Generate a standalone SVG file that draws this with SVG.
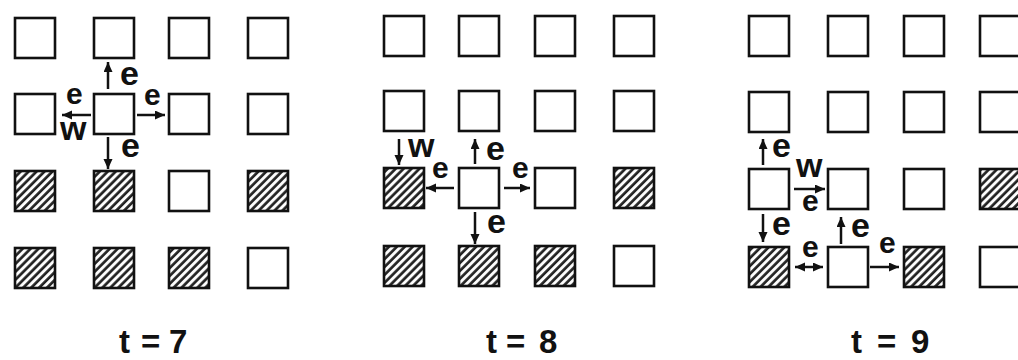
<svg xmlns="http://www.w3.org/2000/svg" width="1018" height="360" viewBox="0 0 1018 360">
<style>
  .sq { fill: #fff; stroke: #111; stroke-width: 2.6; }
  .sq.h { fill: url(#hatch); }
  .ar { stroke: #111; stroke-width: 2.5; fill: none; marker-end: url(#ah); }
  .ar2 { stroke: #111; stroke-width: 2.5; fill: none; marker-end: url(#ah); marker-start: url(#ah); }
  .lb { font-family: "Liberation Sans", Arial, sans-serif; font-weight: bold; font-size: 34px; fill: #111; }
  .ls { font-family: "Liberation Sans", Arial, sans-serif; font-weight: bold; font-size: 30px; fill: #111; }
  .tt { font-family: "Liberation Sans", Arial, sans-serif; font-weight: bold; font-size: 33px; fill: #111; }
</style>
<defs>
  <pattern id="hatch" patternUnits="userSpaceOnUse" width="5.6" height="10" patternTransform="rotate(45)">
    <rect width="5.6" height="10" fill="#fff"/>
    <line x1="1.5" y1="0" x2="1.5" y2="10" stroke="#222" stroke-width="2.7"/>
  </pattern>
  <marker id="ah" markerUnits="userSpaceOnUse" markerWidth="11" markerHeight="10" refX="10" refY="4.5" orient="auto-start-reverse">
    <path d="M0,0 L10,4.5 L0,9 z" fill="#111"/>
  </marker>
</defs>
<rect width="1018" height="360" fill="#fff"/>

<!-- Panel t=7 -->
<g id="panel7">
  <g id="p7-r1-c1"><rect class="sq" x="15" y="18" width="40" height="40"/></g>
  <g id="p7-r1-c2"><rect class="sq" x="94" y="18" width="40" height="40"/></g>
  <g id="p7-r1-c3"><rect class="sq" x="169" y="18" width="40" height="40"/></g>
  <g id="p7-r1-c4"><rect class="sq" x="248" y="18" width="40" height="40"/></g>
  <g id="p7-r2-c1"><rect class="sq" x="15" y="94" width="40" height="40"/></g>
  <g id="p7-r2-c2"><rect class="sq" x="94" y="94" width="40" height="40"/></g>
  <g id="p7-r2-c3"><rect class="sq" x="169" y="94" width="40" height="40"/></g>
  <g id="p7-r2-c4"><rect class="sq" x="248" y="94" width="40" height="40"/></g>
  <g id="p7-r3-c1"><rect class="sq h" x="15" y="171" width="40" height="40"/></g>
  <g id="p7-r3-c2"><rect class="sq h" x="94" y="171" width="40" height="40"/></g>
  <g id="p7-r3-c3"><rect class="sq" x="169" y="171" width="40" height="40"/></g>
  <g id="p7-r3-c4"><rect class="sq h" x="248" y="171" width="40" height="40"/></g>
  <g id="p7-r4-c1"><rect class="sq h" x="15" y="248" width="40" height="40"/></g>
  <g id="p7-r4-c2"><rect class="sq h" x="94" y="248" width="40" height="40"/></g>
  <g id="p7-r4-c3"><rect class="sq h" x="169" y="248" width="40" height="40"/></g>
  <g id="p7-r4-c4"><rect class="sq" x="248" y="248" width="40" height="40"/></g>
  <text id="title7" class="tt" y="353"><tspan x="119">t</tspan><tspan x="141">=</tspan><tspan x="169">7</tspan></text>
</g>

<!-- Panel t=8 -->
<g id="panel8">
  <g id="p8-r1-c1"><rect class="sq" x="384" y="16" width="40" height="40"/></g>
  <g id="p8-r1-c2"><rect class="sq" x="459" y="16" width="40" height="40"/></g>
  <g id="p8-r1-c3"><rect class="sq" x="535" y="16" width="40" height="40"/></g>
  <g id="p8-r1-c4"><rect class="sq" x="614" y="16" width="40" height="40"/></g>
  <g id="p8-r2-c1"><rect class="sq" x="384" y="91" width="40" height="40"/></g>
  <g id="p8-r2-c2"><rect class="sq" x="459" y="91" width="40" height="40"/></g>
  <g id="p8-r2-c3"><rect class="sq" x="535" y="91" width="40" height="40"/></g>
  <g id="p8-r2-c4"><rect class="sq" x="614" y="91" width="40" height="40"/></g>
  <g id="p8-r3-c1"><rect class="sq h" x="384" y="168" width="40" height="40"/></g>
  <g id="p8-r3-c2"><rect class="sq" x="459" y="168" width="40" height="40"/></g>
  <g id="p8-r3-c3"><rect class="sq" x="535" y="168" width="40" height="40"/></g>
  <g id="p8-r3-c4"><rect class="sq h" x="614" y="168" width="40" height="40"/></g>
  <g id="p8-r4-c1"><rect class="sq h" x="384" y="246" width="40" height="40"/></g>
  <g id="p8-r4-c2"><rect class="sq h" x="459" y="246" width="40" height="40"/></g>
  <g id="p8-r4-c3"><rect class="sq h" x="535" y="246" width="40" height="40"/></g>
  <g id="p8-r4-c4"><rect class="sq" x="614" y="246" width="40" height="40"/></g>
  <text id="title8" class="tt" y="353"><tspan x="486">t</tspan><tspan x="506">=</tspan><tspan x="539">8</tspan></text>
</g>

<!-- Panel t=9 -->
<g id="panel9">
  <g id="p9-r1-c1"><rect class="sq" x="749" y="16" width="40" height="40"/></g>
  <g id="p9-r1-c2"><rect class="sq" x="828" y="16" width="40" height="40"/></g>
  <g id="p9-r1-c3"><rect class="sq" x="904" y="16" width="40" height="40"/></g>
  <g id="p9-r1-c4"><rect class="sq" x="980" y="16" width="40" height="40"/></g>
  <g id="p9-r2-c1"><rect class="sq" x="749" y="92" width="40" height="40"/></g>
  <g id="p9-r2-c2"><rect class="sq" x="828" y="92" width="40" height="40"/></g>
  <g id="p9-r2-c3"><rect class="sq" x="904" y="92" width="40" height="40"/></g>
  <g id="p9-r2-c4"><rect class="sq" x="980" y="92" width="40" height="40"/></g>
  <g id="p9-r3-c1"><rect class="sq" x="749" y="169" width="40" height="40"/></g>
  <g id="p9-r3-c2"><rect class="sq" x="828" y="169" width="40" height="40"/></g>
  <g id="p9-r3-c3"><rect class="sq" x="904" y="169" width="40" height="40"/></g>
  <g id="p9-r3-c4"><rect class="sq h" x="980" y="169" width="40" height="40"/></g>
  <g id="p9-r4-c1"><rect class="sq h" x="749" y="247" width="40" height="40"/></g>
  <g id="p9-r4-c2"><rect class="sq" x="828" y="247" width="40" height="40"/></g>
  <g id="p9-r4-c3"><rect class="sq h" x="904" y="247" width="40" height="40"/></g>
  <g id="p9-r4-c4"><rect class="sq" x="980" y="247" width="40" height="40"/></g>
  <text id="title9" class="tt" y="353"><tspan x="851">t</tspan><tspan x="877">=</tspan><tspan x="911">9</tspan></text>
</g>

<!-- Connectors -->
<g id="connectors">
  <!-- t=7 -->
  <line class="ar" x1="108" y1="89" x2="108" y2="62"/>
  <line class="ar" x1="91" y1="115" x2="62" y2="115"/>
  <line class="ar" x1="137" y1="115" x2="165" y2="115"/>
  <line class="ar" x1="108" y1="137" x2="108" y2="169"/>
  <text class="lb" x="120" y="85">e</text>
  <text class="ls" x="66" y="104">e</text>
  <text class="lb" x="60" y="140">w</text>
  <text class="ls" x="144" y="105">e</text>
  <text class="lb" x="121" y="157">e</text>
  <!-- t=8 -->
  <line class="ar" x1="399" y1="139" x2="399" y2="165"/>
  <line class="ar" x1="475" y1="164" x2="475" y2="139"/>
  <line class="ar" x1="454" y1="188" x2="426" y2="188"/>
  <line class="ar" x1="504" y1="188" x2="530" y2="188"/>
  <line class="ar" x1="475" y1="212" x2="475" y2="244"/>
  <text class="lb" x="408" y="157">w</text>
  <text class="lb" x="486" y="160">e</text>
  <text class="ls" x="432" y="178">e</text>
  <text class="ls" x="512" y="178">e</text>
  <text class="lb" x="487" y="233">e</text>
  <!-- t=9 -->
  <line class="ar" x1="763" y1="165" x2="763" y2="139"/>
  <line class="ar" x1="794" y1="189" x2="825" y2="189"/>
  <line class="ar" x1="763" y1="214" x2="763" y2="242"/>
  <line class="ar" x1="841" y1="244" x2="841" y2="217"/>
  <line class="ar2" x1="795" y1="267" x2="823" y2="267"/>
  <line class="ar" x1="870" y1="267" x2="899" y2="267"/>
  <text class="lb" x="772" y="157">e</text>
  <text class="lb" x="796" y="177">w</text>
  <text class="ls" x="802" y="211">e</text>
  <text class="lb" x="772" y="235">e</text>
  <text class="lb" x="851" y="237">e</text>
  <text class="ls" x="802" y="257">e</text>
  <text class="ls" x="879" y="253">e</text>
</g>
</svg>
